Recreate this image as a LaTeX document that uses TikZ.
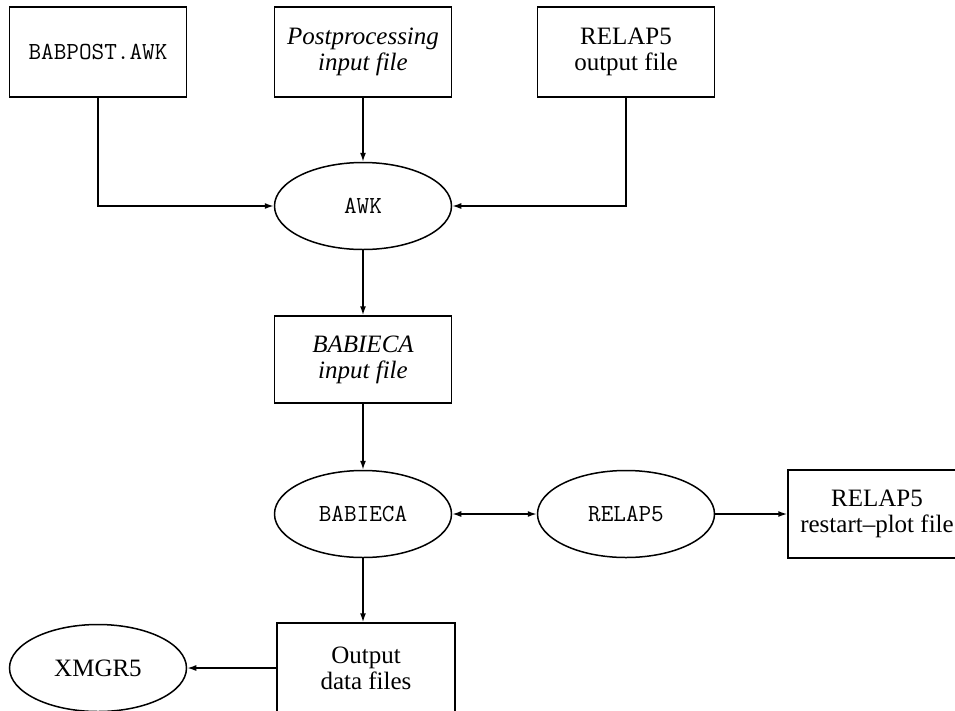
\documentclass[tikz,border=0pt]{standalone}
\usepackage{fontspec}
\setmainfont{Liberation Serif}
\usetikzlibrary{shapes.geometric,arrows.meta}
\tikzset{
  filebox/.style={draw, line width=1.5pt, rectangle, inner sep=0pt, minimum width=177pt, minimum height=90pt, align=center, font=\fontsize{25}{26}\selectfont},
  prog/.style={draw, line width=1.5pt, ellipse, inner sep=0pt, minimum width=177pt, minimum height=87pt, align=center, font=\fontsize{24.5}{26}\selectfont\ttfamily},
  conn/.style={line width=1.5pt, -{Latex[length=9pt,width=6pt]}},
  conn2/.style={line width=1.5pt, {Latex[length=9pt,width=6pt]}-{Latex[length=9pt,width=6pt]}}
}
\begin{document}
\begin{tikzpicture}[x=1pt,y=-1pt]
\clip (0,0) rectangle (955,710);
\node[filebox] (babpost) at (98,52) {\ttfamily\fontsize{24.5}{26}\selectfont BABPOST.AWK};
\node[filebox] (postin) at (363,52) {\itshape Postprocessing\\\itshape input file};
\node[filebox] (relout) at (626,52) {RELAP5\\output file};
\node[prog] (awk) at (363,206) {AWK};
\node[filebox, minimum height=87pt] (babin) at (363,359.5) {\itshape BABIECA\\\itshape input file};
\node[prog] (babieca) at (363,514) {BABIECA};
\node[prog] (relap) at (626,514) {RELAP5};
\node[filebox, minimum width=178pt, minimum height=88pt] (restart) at (877,514) {RELAP5\\restart--plot file};
\node[filebox, minimum width=178pt] (output) at (366,668) {Output\\data files};
\node[prog, font=\fontsize{25}{26}\selectfont] (xmgr) at (98,668) {XMGR5};

\draw[conn] (babpost.south) |- (awk.west);
\draw[conn] (postin.south) -- (awk.north);
\draw[conn] (relout.south) |- (awk.east);
\draw[conn] (awk.south) -- (babin.north);
\draw[conn] (babin.south) -- (babieca.north);
\draw[conn2] (babieca.east) -- (relap.west);
\draw[conn] (relap.east) -- (restart.west);
\draw[conn] (babieca.south) -- (babieca.south |- output.north);
\draw[conn] (output.west) -- (xmgr.east);
\end{tikzpicture}
\end{document}
